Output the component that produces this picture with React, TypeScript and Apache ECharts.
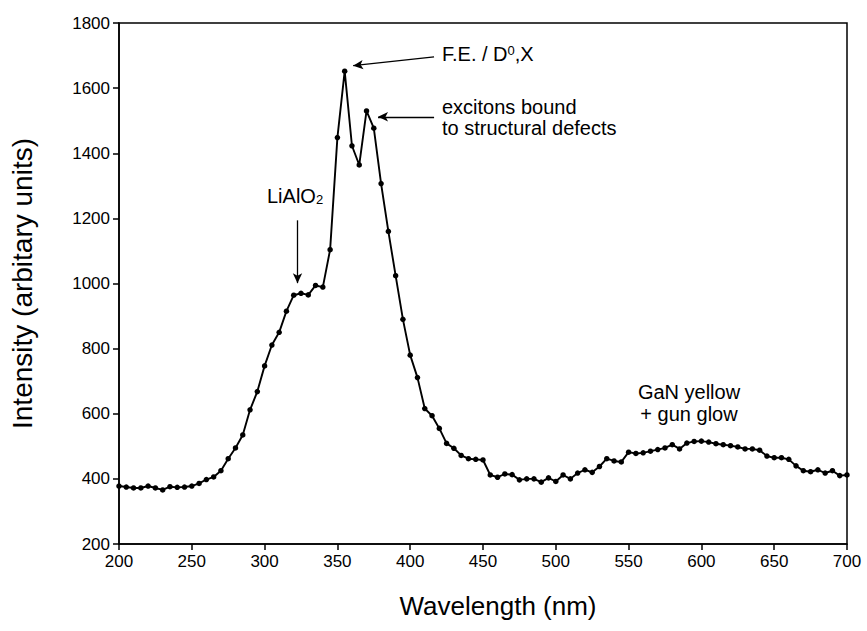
import React, { useEffect, useRef } from "react";
import * as echarts from "echarts";

const wavelengths: number[] = [];
for (let w = 200; w <= 700; w += 5) wavelengths.push(w);

const intensity: number[] = [
  378, 375, 372, 372, 378, 372, 366, 376, 374, 375, // 200-245
  378, 386, 398, 406, 425, 462, 495, 535, 612, 668, // 250-295
  747, 811, 850, 915, 964, 970, 965, 994, 989, 1104, // 300-345
  1448, 1652, 1423, 1364, 1530, 1477, 1307, 1160, 1024, 890, // 350-395
  780, 711, 616, 594, 555, 509, 494, 472, 462, 460, // 400-445
  458, 412, 405, 415, 413, 397, 400, 400, 390, 403, // 450-495
  392, 412, 400, 418, 428, 420, 438, 462, 455, 452, // 500-545
  482, 478, 480, 485, 490, 495, 505, 492, 510, 515, // 550-595
  516, 513, 508, 505, 502, 498, 492, 492, 488, 470, // 600-645
  465, 465, 460, 440, 425, 422, 428, 418, 425, 410, // 650-695
  412, // 700
];

const xTicks = { min: 200, max: 700, interval: 50 };
const yTicks = { min: 200, max: 1800, interval: 200 };

const arrows = [
  { from: [416.4, 1696], to: [360.8, 1669] },
  { from: [416.4, 1512], to: [377.9, 1512] },
  { from: [322.6, 1194], to: [322.6, 1001] },
];

const FONT = "'Liberation Sans', Arial, Helvetica, sans-serif";

export default function App() {
  const ref = useRef<HTMLDivElement>(null);
  useEffect(() => {
    if (!ref.current) return;
    const chart = echarts.init(ref.current, undefined, { renderer: "svg" });
    const data = wavelengths.map((w, i) => [w, intensity[i]]);
    const annText = { fontFamily: FONT, fontSize: 20, fill: "#000" };
    chart.setOption({
      animation: false,
      backgroundColor: "#fff",
      grid: {
        left: 117,
        right: 20,
        top: 23,
        bottom: 87,
        show: true,
        borderColor: "#000",
        borderWidth: 1.5,
      },
      xAxis: {
        type: "value",
        ...xTicks,
        name: "Wavelength (nm)",
        nameLocation: "middle",
        nameGap: 49,
        nameTextStyle: { fontFamily: FONT, fontSize: 26, color: "#000", padding: [0, 0, 0, 30] },
        axisLine: { lineStyle: { color: "#000", width: 1.5 } },
        axisTick: { inside: false, length: 6, lineStyle: { color: "#000", width: 1.5 } },
        axisLabel: { fontFamily: FONT, fontSize: 17, color: "#000", margin: 9, formatter: (v: number) => String(v) },
        splitLine: { show: false },
      },
      yAxis: {
        type: "value",
        ...yTicks,
        name: "Intensity (arbitary units)",
        nameLocation: "middle",
        nameGap: 83,
        nameTextStyle: { fontFamily: FONT, fontSize: 28, color: "#000" },
        axisLine: { lineStyle: { color: "#000", width: 1.5 } },
        axisTick: { inside: false, length: 6, lineStyle: { color: "#000", width: 1.5 } },
        axisLabel: { fontFamily: FONT, fontSize: 17, color: "#000", margin: 9, formatter: (v: number) => String(v) },
        splitLine: { show: false },
      },
      series: [
        {
          type: "line",
          data,
          symbol: "circle",
          symbolSize: 5.5,
          showSymbol: true,
          itemStyle: { color: "#000" },
          lineStyle: { color: "#000", width: 1.9 },
          emphasis: { disabled: true },
          markLine: {
            silent: true,
            symbolSize: [7, 10],
            label: { show: false },
            lineStyle: { color: "#000", width: 1.3, type: "solid" },
            emphasis: { disabled: true },
            data: arrows.map((a) => [
              { coord: a.from, symbol: "none" },
              { coord: a.to, symbol: "arrow" },
            ]),
          },
        },
      ],
      graphic: [
        {
          type: "text",
          left: 442,
          top: 44,
          style: {
            ...annText,
            text: "F.E. / D{sup|0},X",
            rich: {
              sup: { fontFamily: FONT, fontSize: 13, verticalAlign: "top", lineHeight: 12, fill: "#000" },
            },
          },
        },
        {
          type: "text",
          left: 442,
          top: 96,
          style: { ...annText, text: "excitons bound\nto structural defects", lineHeight: 21.5 },
        },
        {
          type: "text",
          left: 267,
          top: 186,
          style: {
            ...annText,
            text: "LiAlO{sub|2}",
            rich: {
              sub: { fontFamily: FONT, fontSize: 13, verticalAlign: "bottom", lineHeight: 12, fill: "#000" },
            },
          },
        },
        {
          type: "text",
          x: 689,
          y: 381,
          style: { ...annText, text: "GaN yellow\n+ gun glow", lineHeight: 22, align: "center" },
        },
      ],
    });
    return () => chart.dispose();
  }, []);
  return (
    <div
      ref={ref}
      style={{ position: "absolute", left: 0, top: 0, width: 867, height: 631 }}
    />
  );
}
